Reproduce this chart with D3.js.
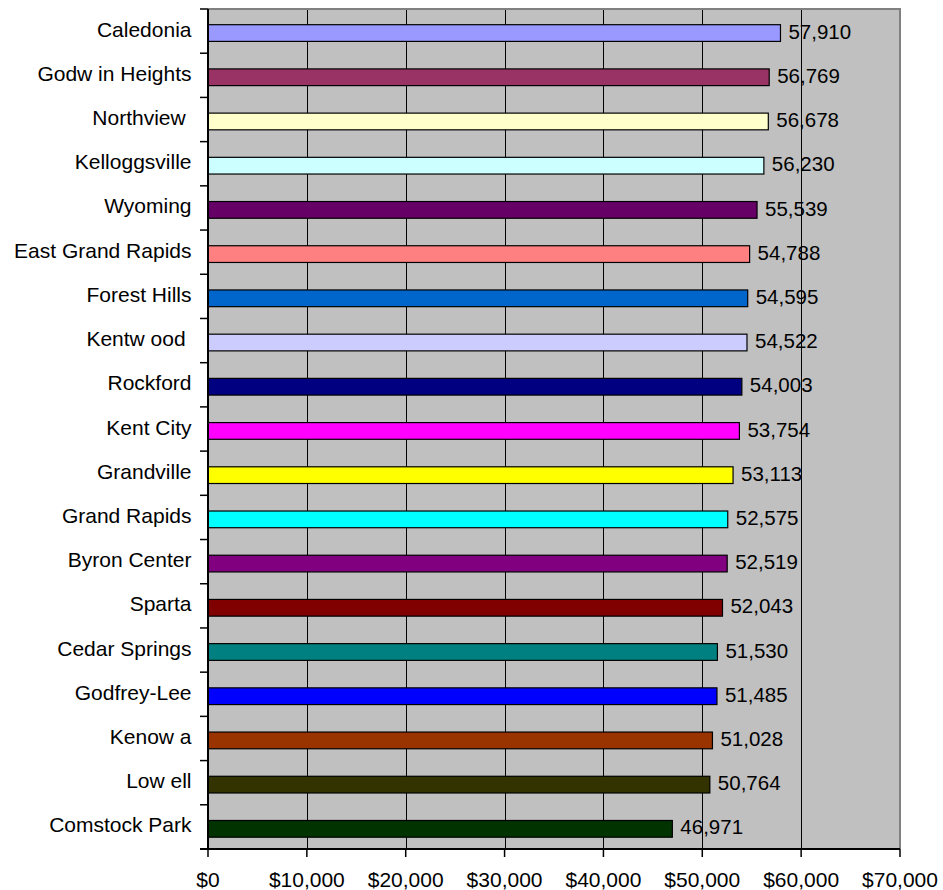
<!DOCTYPE html>
<html>
<head>
<meta charset="utf-8">
<script src="https://cdnjs.cloudflare.com/ajax/libs/d3/7.8.5/d3.min.js"></script>
<style>
  html, body { margin: 0; padding: 0; background: #ffffff; }
  svg { display: block; }
  text { font-family: "Liberation Sans", Arial, sans-serif; fill: #000; white-space: pre; }
</style>
</head>
<body>
<svg id="chart" width="943" height="890"></svg>
<script>
// School districts, top to bottom
const districts = [
  "Caledonia", "Godw in Heights", "Northview ", "Kelloggsville", "Wyoming",
  "East Grand Rapids", "Forest Hills", "Kentw ood ", "Rockford", "Kent City",
  "Grandville", "Grand Rapids", "Byron Center", "Sparta", "Cedar Springs",
  "Godfrey-Lee", "Kenow a", "Low ell", "Comstock Park"
];
// Average salary per district
const salaries = [
  57910, 56769, 56678, 56230, 55539,
  54788, 54595, 54522, 54003, 53754,
  53113, 52575, 52519, 52043, 51530,
  51485, 51028, 50764, 46971
];
// Bar fill per district
const barColors = [
  "#9999FF", "#993366", "#FFFFCC", "#CCFFFF", "#660066",
  "#FF8080", "#0066CC", "#CCCCFF", "#000080", "#FF00FF",
  "#FFFF00", "#00FFFF", "#800080", "#800000", "#008080",
  "#0000FF", "#993300", "#333300", "#003300"
];
const xTicks = [0, 10000, 20000, 30000, 40000, 50000, 60000, 70000];

const svg = d3.select("#chart");
const plot = { left: 208, right: 900, top: 9, bottom: 849 };

const x = d3.scaleLinear().domain([0, 70000]).range([plot.left, plot.right]);
const y = d3.scaleBand().domain(districts).range([plot.top, plot.bottom]).padding(0);
const bw = y.bandwidth();

// plot background
svg.append("rect")
  .attr("x", plot.left).attr("y", plot.top)
  .attr("width", plot.right - plot.left).attr("height", plot.bottom - plot.top)
  .attr("fill", "#C0C0C0");

// vertical gridlines
svg.append("g").selectAll("line")
  .data(xTicks.filter(d => d > 0 && d < 70000))
  .join("line")
  .attr("x1", d => Math.round(x(d)) + 0.5).attr("x2", d => Math.round(x(d)) + 0.5)
  .attr("y1", plot.top).attr("y2", plot.bottom)
  .attr("stroke", "#000").attr("stroke-width", 1);

// grey frame on top and right
svg.append("path")
  .attr("d", `M${plot.left},${plot.top} H${plot.right} V${plot.bottom}`)
  .attr("fill", "none").attr("stroke", "#808080").attr("stroke-width", 2);

// bars
svg.append("g").selectAll("rect")
  .data(districts)
  .join("rect")
  .attr("x", x(0))
  .attr("y", (d) => y(d) + bw * 0.355)
  .attr("width", (d, i) => x(salaries[i]) - x(0))
  .attr("height", bw * 0.378)
  .attr("fill", (d, i) => barColors[i])
  .attr("stroke", "#000").attr("stroke-width", 1.2);

// value labels
svg.append("g").selectAll("text")
  .data(districts)
  .join("text")
  .attr("x", (d, i) => x(salaries[i]) + 8)
  .attr("y", d => y(d) + bw / 2 + 7.6)
  .attr("font-size", 20.5)
  .text((d, i) => d3.format(",")(salaries[i]));

// category axis
const yAxis = svg.append("g");
yAxis.append("line")
  .attr("x1", plot.left).attr("x2", plot.left)
  .attr("y1", plot.top).attr("y2", plot.bottom + 1)
  .attr("stroke", "#000").attr("stroke-width", 2);
yAxis.selectAll("line.tick")
  .data(d3.range(districts.length + 1))
  .join("line").attr("class", "tick")
  .attr("x1", plot.left - 8).attr("x2", plot.left)
  .attr("y1", i => plot.top + i * bw).attr("y2", i => plot.top + i * bw)
  .attr("stroke", "#000").attr("stroke-width", 1.5);
yAxis.selectAll("text")
  .data(districts)
  .join("text")
  .attr("x", 191.5)
  .attr("y", d => y(d) + bw / 2 + 5.5)
  .attr("text-anchor", "end")
  .attr("font-size", 21)
  .text(d => d);

// value axis
const xAxis = svg.append("g");
xAxis.append("line")
  .attr("x1", plot.left - 8).attr("x2", plot.right)
  .attr("y1", plot.bottom).attr("y2", plot.bottom)
  .attr("stroke", "#000").attr("stroke-width", 2);
xAxis.selectAll("line.tick")
  .data(xTicks)
  .join("line").attr("class", "tick")
  .attr("x1", d => x(d)).attr("x2", d => x(d))
  .attr("y1", plot.bottom).attr("y2", plot.bottom + 8)
  .attr("stroke", "#000").attr("stroke-width", 1.5);
xAxis.selectAll("text")
  .data(xTicks)
  .join("text")
  .attr("x", d => x(d))
  .attr("y", 887)
  .attr("text-anchor", "middle")
  .attr("font-size", 21)
  .text(d => "$" + d3.format(",")(d));
</script>
</body>
</html>
